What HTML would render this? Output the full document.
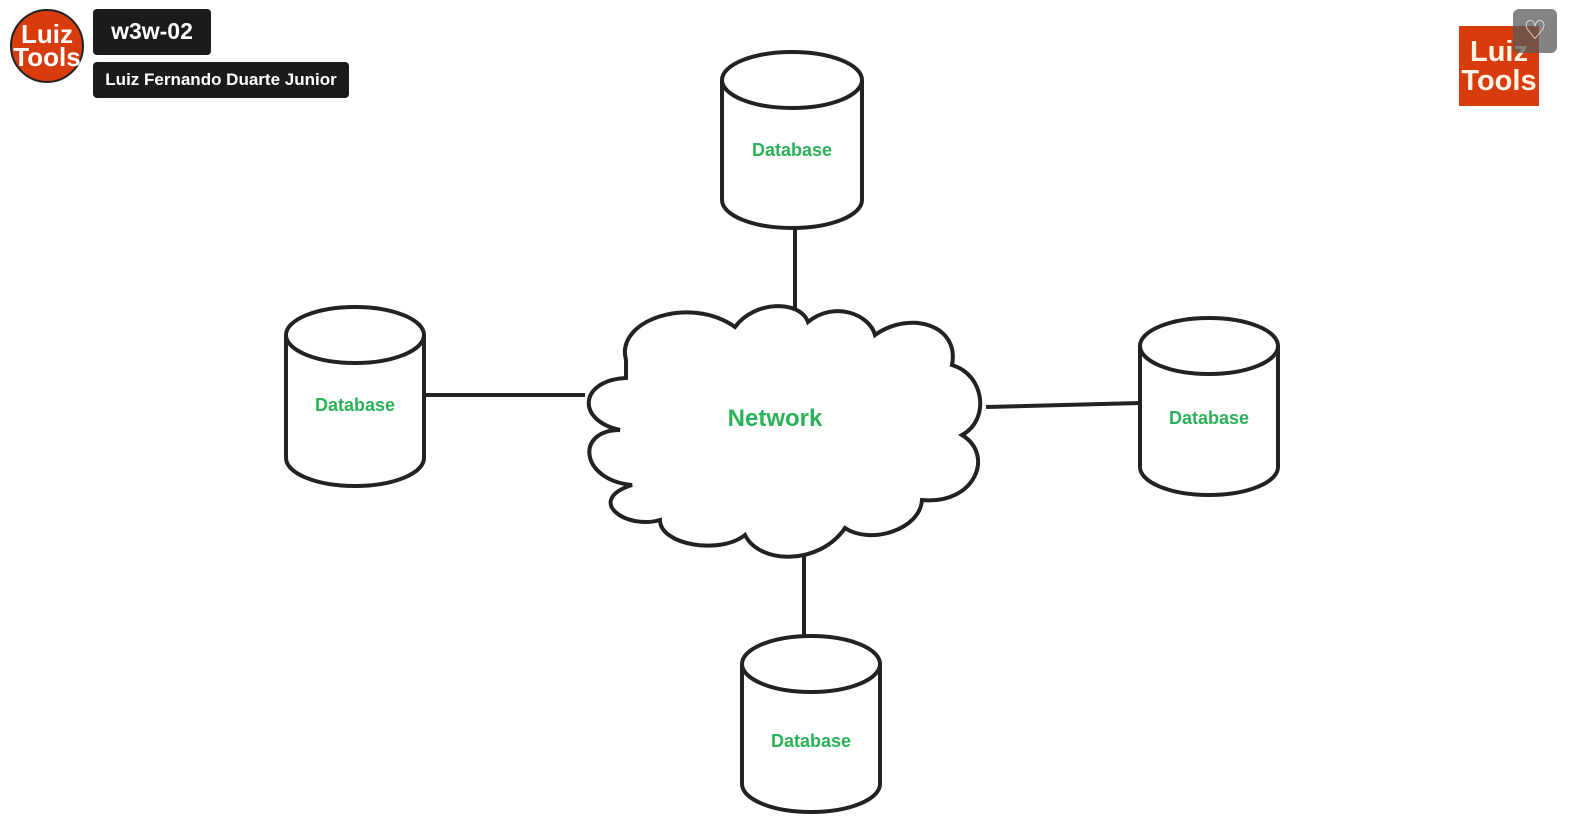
<!DOCTYPE html>
<html><head><style>
body{margin:0;width:1572px;height:817px;background:#fff;position:relative;overflow:hidden;font-family:"Liberation Sans",sans-serif}
.b{position:absolute;background:#1b1b1b;color:#fff;font-weight:bold;border-radius:4px}
</style></head><body>
<div style="position:absolute;left:10px;top:9px;width:74px;height:74px;border-radius:50%;background:#d83c0c;border:2px solid #222;color:#fff;font-weight:bold;font-size:26px;line-height:23px;text-align:center;box-sizing:border-box;padding-top:12px">Luiz<br>Tools</div>
<div class="b" style="left:93px;top:9px;width:118px;height:46px;font-size:23px;line-height:44px;text-align:center">w3w-02</div>
<div class="b" style="left:93px;top:62px;width:256px;height:36px;font-size:17px;line-height:36px;text-align:center">Luiz Fernando Duarte Junior</div>
<div style="position:absolute;left:1459px;top:26px;width:80px;height:80px;background:#d83c0c;color:#fff4e8;font-weight:bold;font-size:29px;line-height:29px;text-align:center;box-sizing:border-box;padding-top:12px">Luiz<br>Tools</div>
<div style="position:absolute;left:1513px;top:9px;width:44px;height:44px;border-radius:6px;background:rgba(90,90,90,.75);color:#fff;font-size:26px;text-align:center;line-height:42px">♡</div>
<svg width="1572" height="817" style="position:absolute;left:0;top:0" fill="none" stroke="#222" stroke-width="4">
<g id="c">
</g>
<path d="M722 80 A70 28 0 0 1 862 80 L862 200 A70 28 0 0 1 722 200 Z M722 80 A70 28 0 0 0 862 80"/>
<path d="M286 335 A69 28 0 0 1 424 335 L424 458 A69 28 0 0 1 286 458 Z M286 335 A69 28 0 0 0 424 335"/>
<path d="M1140 346 A69 28 0 0 1 1278 346 L1278 467 A69 28 0 0 1 1140 467 Z M1140 346 A69 28 0 0 0 1278 346"/>
<path d="M742 664 A69 28 0 0 1 880 664 L880 784 A69 28 0 0 1 742 784 Z M742 664 A69 28 0 0 0 880 664"/>
<path d="M795 229 L795 312 M424 395 L585 395 M986 407 L1140 403 M804 555 L804 636"/>
<path d="M626 360 C615 320 690 295 735 327 C755 300 800 300 808 322 C835 300 870 315 875 335 C910 310 960 325 952 365 C985 375 990 420 962 435 C995 455 975 505 922 500 C920 530 870 545 845 528 C820 565 760 565 745 535 C720 555 660 545 660 520 C625 530 585 500 632 485 C580 480 575 430 620 430 C575 420 580 380 626 378 Z" fill="#fff"/>
</svg>
<div style="position:absolute;left:722px;top:140px;width:140px;text-align:center;color:#2bb158;font-weight:bold;font-size:18px">Database</div>
<div style="position:absolute;left:286px;top:395px;width:138px;text-align:center;color:#2bb158;font-weight:bold;font-size:18px">Database</div>
<div style="position:absolute;left:1140px;top:408px;width:138px;text-align:center;color:#2bb158;font-weight:bold;font-size:18px">Database</div>
<div style="position:absolute;left:742px;top:731px;width:138px;text-align:center;color:#2bb158;font-weight:bold;font-size:18px">Database</div>
<div style="position:absolute;left:700px;top:405px;width:150px;text-align:center;color:#2bb158;font-weight:bold;font-size:24px">Network</div>
</body></html>
